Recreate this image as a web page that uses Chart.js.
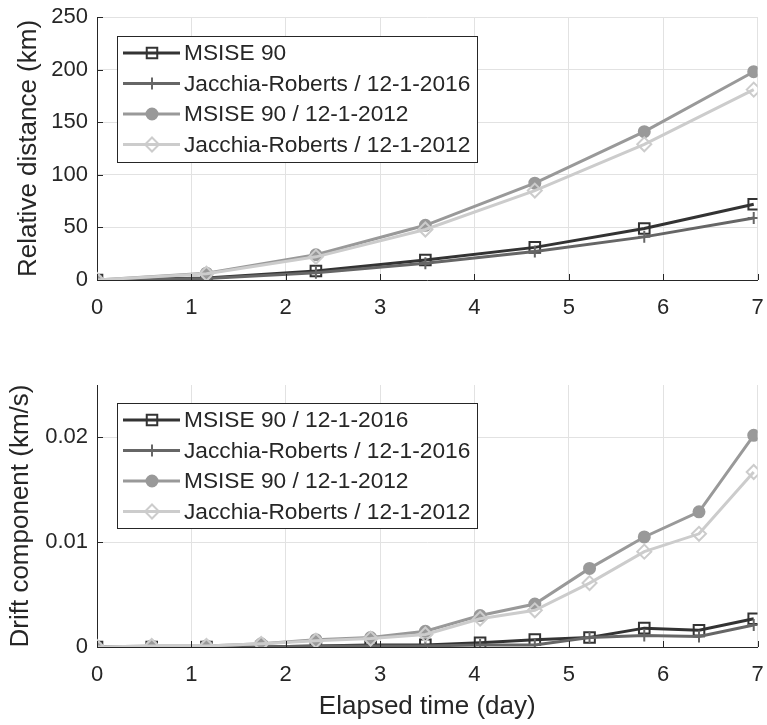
<!DOCTYPE html>
<html>
<head>
<meta charset="utf-8">
<script src="https://cdn.jsdelivr.net/npm/chart.js@4/dist/chart.umd.min.js"></script>
<style>
  body { margin: 0; background: #fff; }
  canvas { display: block; }
</style>
</head>
<body>
<canvas id="topChart" width="767" height="345"></canvas>
<canvas id="bottomChart" width="767" height="380"></canvas>
<script>
// top panel: relative distance
const topTimes = [0, 1.16, 2.32, 3.48, 4.64, 5.8, 6.96];
const topMsise2016 = [0, 2, 8.5, 19, 31, 49, 72];
const topJr2016 = [0, 1.5, 7, 16, 27, 41, 59];
const topMsise2012 = [0, 6.5, 24, 52, 92, 141, 198];
const topJr2012 = [0, 6, 22, 48, 85, 129, 181];
const topLabels = ['MSISE 90', 'Jacchia-Roberts / 12-1-2016', 'MSISE 90 / 12-1-2012', 'Jacchia-Roberts / 12-1-2012'];

// bottom panel: drift component
const botTimes = [0, 0.58, 1.16, 1.74, 2.32, 2.9, 3.48, 4.06, 4.64, 5.22, 5.8, 6.38, 6.96];
const botMsise2016 = [0, 0, 0, 0, 0.0001, 0.0002, 0.0002, 0.0004, 0.0007, 0.0009, 0.0018, 0.0016, 0.0027];
const botJr2016 = [0, 0, 0, 0, 0.0001, 0.0001, 0.0001, 0.0002, 0.0002, 0.0009, 0.0011, 0.001, 0.0021];
const botMsise2012 = [0, 0.0001, 0.0001, 0.0003, 0.0007, 0.0009, 0.0015, 0.003, 0.0041, 0.0075, 0.0105, 0.0129, 0.0202];
const botJr2012 = [0, 0.0001, 0.0001, 0.0003, 0.0006, 0.0008, 0.0012, 0.0027, 0.0035, 0.0061, 0.0091, 0.0108, 0.0167];
const botLabels = ['MSISE 90 / 12-1-2016', 'Jacchia-Roberts / 12-1-2016', 'MSISE 90 / 12-1-2012', 'Jacchia-Roberts / 12-1-2012'];

const xTicks = [0, 1, 2, 3, 4, 5, 6, 7];

const FONT = '"Liberation Sans", Arial, sans-serif';
const TEXT = '#262626';
const GRID = '#e2e2e2';

const styles = [
    {color: '#333333', shape: 'square', fill: false, r: 7.5},
    {color: '#666666', shape: 'plus', fill: false, r: 6},
    {color: '#999999', shape: 'circle', fill: true, r: 5.5},
    {color: '#cccccc', shape: 'diamond', fill: false, r: 7}
];
const chartStyle = {square: 'rect', plus: 'cross', circle: 'circle', diamond: 'rectRot'};

function drawMarker(ctx, shape, x, y, r, color, fill) {
    ctx.save();
    ctx.strokeStyle = color;
    ctx.fillStyle = color;
    ctx.lineWidth = 2;
    ctx.beginPath();
    if (shape === 'square') {
        ctx.rect(x - r * 0.7, y - r * 0.7, r * 1.4, r * 1.4);
    } else if (shape === 'plus') {
        ctx.moveTo(x - r, y); ctx.lineTo(x + r, y);
        ctx.moveTo(x, y - r); ctx.lineTo(x, y + r);
    } else if (shape === 'circle') {
        ctx.arc(x, y, r, 0, Math.PI * 2);
    } else {
        ctx.moveTo(x, y - r); ctx.lineTo(x + r, y); ctx.lineTo(x, y + r); ctx.lineTo(x - r, y); ctx.closePath();
    }
    if (fill) ctx.fill();
    ctx.stroke();
    ctx.restore();
}

// boxed legend inside the plot area + inward tick marks
const boxLegend = {
    id: 'boxLegend',
    afterDraw(chart, args, opts) {
        const ctx = chart.ctx;
        const area = chart.chartArea;
        // inward ticks
        ctx.save();
        ctx.strokeStyle = TEXT;
        ctx.lineWidth = 1;
        chart.scales.x.ticks.forEach(t => {
            const px = Math.round(chart.scales.x.getPixelForValue(t.value)) + 0.5;
            ctx.beginPath(); ctx.moveTo(px, area.bottom); ctx.lineTo(px, area.bottom - 6); ctx.stroke();
        });
        chart.scales.y.ticks.forEach(t => {
            const py = Math.round(chart.scales.y.getPixelForValue(t.value)) + 0.5;
            ctx.beginPath(); ctx.moveTo(area.left, py); ctx.lineTo(area.left + 6, py); ctx.stroke();
        });
        ctx.restore();

        const x = area.left + opts.dx;
        const y = area.top + opts.dy;
        ctx.save();
        ctx.fillStyle = '#fff';
        ctx.fillRect(x, y, opts.w, opts.h);
        ctx.strokeStyle = TEXT;
        ctx.lineWidth = 1;
        ctx.strokeRect(x + 0.5, y + 0.5, opts.w, opts.h);
        ctx.font = '22.7px ' + FONT;
        ctx.textBaseline = 'middle';
        opts.labels.forEach((label, i) => {
            const s = styles[i];
            const cy = y + 17 + i * 30.5;
            ctx.strokeStyle = s.color;
            ctx.lineWidth = 3;
            ctx.beginPath(); ctx.moveTo(x + 6, cy); ctx.lineTo(x + 63, cy); ctx.stroke();
            drawMarker(ctx, s.shape, x + 35, cy, s.r, s.color, s.fill);
            ctx.fillStyle = TEXT;
            ctx.fillText(label, x + 67, cy + 1);
        });
        ctx.restore();
    }
};

function makeDatasets(times, series, labels) {
    return series.map((vals, i) => ({
        label: labels[i],
        data: vals.map((v, k) => ({x: times[k], y: v})),
        borderColor: styles[i].color,
        backgroundColor: styles[i].fill ? styles[i].color : 'rgba(255,255,255,0)',
        pointBorderColor: styles[i].color,
        pointBackgroundColor: styles[i].fill ? styles[i].color : 'rgba(255,255,255,0)',
        pointStyle: chartStyle[styles[i].shape],
        pointRadius: styles[i].r,
        pointBorderWidth: 2,
        borderWidth: 3,
        tension: 0,
        order: 4 - i
    }));
}

function xScale(showTitle, height) {
    return {
        type: 'linear', min: 0, max: 7,
        afterBuildTicks: s => { s.ticks = xTicks.map(v => ({value: v})); },
        afterFit: s => { s.height = height; s.paddingLeft = 0; s.paddingRight = 0; },
        ticks: {color: TEXT, font: {family: FONT, size: 22}, padding: 15, maxRotation: 0},
        grid: {color: GRID, drawTicks: false},
        border: {color: TEXT, width: 1},
        title: {display: showTitle, text: 'Elapsed time (day)', color: TEXT,
            font: {family: FONT, size: 26}, padding: {top: 0, bottom: 3}}
    };
}

function yScale(title, max, yTicks, fmt, titlePad) {
    return {
        type: 'linear', min: 0, max: max,
        afterBuildTicks: s => { s.ticks = yTicks.map(v => ({value: v})); },
        afterFit: s => { s.width = 97; s.paddingTop = 0; s.paddingBottom = 0; },
        ticks: {color: TEXT, font: {family: FONT, size: 22}, padding: 9, callback: fmt},
        grid: {color: GRID, drawTicks: false},
        border: {color: TEXT, width: 1},
        title: {display: true, text: title, color: TEXT,
            font: {family: FONT, size: 26}, padding: {top: titlePad, bottom: 0}}
    };
}

new Chart(document.getElementById('topChart'), {
    type: 'line',
    data: {datasets: makeDatasets(topTimes, [topMsise2016, topJr2016, topMsise2012, topJr2012], topLabels)},
    options: {
        responsive: false,
        animation: false,
        layout: {padding: {top: 17, right: 9, left: 0, bottom: 0}},
        plugins: {
            legend: {display: false},
            tooltip: {enabled: false},
            boxLegend: {dx: 20, dy: 19, w: 360, h: 126, labels: topLabels}
        },
        scales: {
            x: xScale(false, 65),
            y: yScale('Relative distance (km)', 250, [0, 50, 100, 150, 200, 250], v => String(v), 13)
        }
    },
    plugins: [boxLegend]
});

new Chart(document.getElementById('bottomChart'), {
    type: 'line',
    data: {datasets: makeDatasets(botTimes, [botMsise2016, botJr2016, botMsise2012, botJr2012], botLabels)},
    options: {
        responsive: false,
        animation: false,
        layout: {padding: {top: 40, right: 9, left: 0, bottom: 0}},
        plugins: {
            legend: {display: false},
            tooltip: {enabled: false},
            boxLegend: {dx: 20, dy: 18, w: 360, h: 125, labels: botLabels}
        },
        scales: {
            x: xScale(true, 78),
            y: yScale('Drift component (km/s)', 0.025, [0, 0.01, 0.02], v => (v === 0 ? '0' : v.toFixed(2)), 5)
        }
    },
    plugins: [boxLegend]
});
</script>
</body>
</html>
